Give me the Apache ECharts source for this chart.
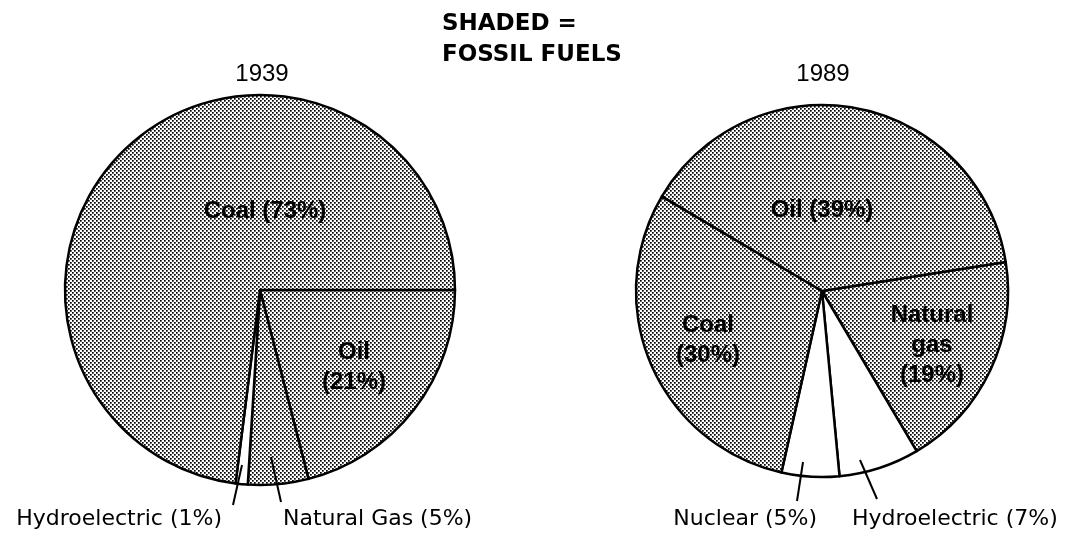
<!DOCTYPE html>
<html>
<head>
<meta charset="utf-8">
<script src="https://cdn.jsdelivr.net/npm/echarts@6/dist/echarts.min.js"></script>
<style>
html, body { margin: 0; background: #fff; }
#chart { width: 1068px; height: 540px; }
</style>
</head>
<body>
<div id="chart"></div>
<script>
// 1939
const names1939 = ['Oil', 'Natural Gas', 'Hydroelectric', 'Coal'];
const values1939 = [21, 5, 1, 73];
const fossil1939 = [true, true, false, true];
const labels1939 = ['Oil\n(21%)', 'Natural Gas (5%)', 'Hydroelectric (1%)', 'Coal (73%)'];

// 1989
const names1989 = ['Natural gas', 'Hydroelectric', 'Nuclear', 'Coal', 'Oil'];
const values1989 = [19, 7, 5, 30, 39];
const fossil1989 = [true, false, false, true, true];
const labels1989 = ['Natural\ngas\n(19%)', 'Hydroelectric (7%)', 'Nuclear (5%)', 'Coal\n(30%)', 'Oil (39%)'];

const yearTitles = ['1939', '1989'];

// where each label sits (outside ones get a pointer line)
const labelPos = [
    [
        {x: 354, y: 367},
        {x: 283, y: 519, align: 'left', line: [[271, 457], [281, 502]]},
        {x: 222, y: 519, align: 'right', line: [[242, 465], [233, 505]]},
        {x: 265, y: 211}
    ],
    [
        {x: 932, y: 345},
        {x: 852, y: 519, align: 'left', line: [[860, 460], [877, 499]]},
        {x: 817, y: 519, align: 'right', line: [[803, 462], [797, 501]]},
        {x: 708, y: 340},
        {x: 822, y: 210}
    ]
];

//点状底纹
function makeShade() {
    let c = document.createElement('canvas');
    c.width = 4;
    c.height = 4;
    let ctx = c.getContext('2d');
    ctx.fillStyle = '#fff';
    ctx.fillRect(0, 0, 4, 4);
    ctx.fillStyle = '#000';
    ctx.fillRect(0, 0, 1.7, 1.7);
    ctx.fillRect(2, 2, 1.7, 1.7);
    return c;
}
const shade = {image: makeShade(), repeat: 'repeat'};

const insideLabel = {
    position: 'inside',
    color: '#000',
    fontFamily: 'Liberation Sans',
    fontWeight: 'bold',
    fontSize: 24,
    lineHeight: 30
};
const outsideLabel = {
    position: 'inside',
    color: '#000',
    fontFamily: 'DejaVu Sans',
    fontWeight: 'normal',
    fontSize: 22
};

function buildData(names, values, fossil, labels, si) {
    return names.map(function (n, i) {
        let outside = !!labelPos[si][i].line;
        return {
            name: n,
            value: values[i],
            itemStyle: {color: fossil[i] ? shade : '#fff'},
            label: Object.assign({formatter: labels[i]}, outside ? outsideLabel : insideLabel)
        };
    });
}

function pieSeries(center, radius, startAngle, data) {
    return {
        type: 'pie',
        center: center,
        radius: radius,
        startAngle: startAngle,
        clockwise: true,
        avoidLabelOverlap: false,
        animation: false,
        emphasis: {disabled: true},
        itemStyle: {borderColor: '#000', borderWidth: 2.5},
        labelLine: {show: false},
        labelLayout: function (params) {
            let p = labelPos[params.seriesIndex][params.dataIndex];
            return {x: p.x, y: p.y, align: p.align || 'center', verticalAlign: 'middle'};
        },
        data: data
    };
}

// 标注引线
let pointers = [];
labelPos.forEach(function (s) {
    s.forEach(function (p) {
        if (p.line) {
            pointers.push({
                type: 'polyline', z: 100, silent: true,
                shape: {points: p.line},
                style: {stroke: '#000', lineWidth: 2, fill: null}
            });
        }
    });
});

let chart = echarts.init(document.getElementById('chart'));
let option = {
    backgroundColor: '#fff',
    graphic: [
        {
            type: 'text', left: 442, top: 9,
            style: {text: 'SHADED =\nFOSSIL FUELS', fontFamily: 'DejaVu Sans', fontWeight: 'bold', fontSize: 23, lineHeight: 31, fill: '#000'}
        },
        {
            type: 'text', x: 262, y: 74,
            style: {text: yearTitles[0], fontFamily: 'Liberation Sans', fontSize: 24, fill: '#000', textAlign: 'center', textVerticalAlign: 'middle'}
        },
        {
            type: 'text', x: 823, y: 74,
            style: {text: yearTitles[1], fontFamily: 'Liberation Sans', fontSize: 24, fill: '#000', textAlign: 'center', textVerticalAlign: 'middle'}
        }
    ].concat(pointers),
    series: [
        pieSeries([260, 290], 195, 0, buildData(names1939, values1939, fossil1939, labels1939, 0)),
        pieSeries([822, 291], 186, 9, buildData(names1989, values1989, fossil1989, labels1989, 1))
    ]
};
chart.setOption(option);
</script>
</body>
</html>
